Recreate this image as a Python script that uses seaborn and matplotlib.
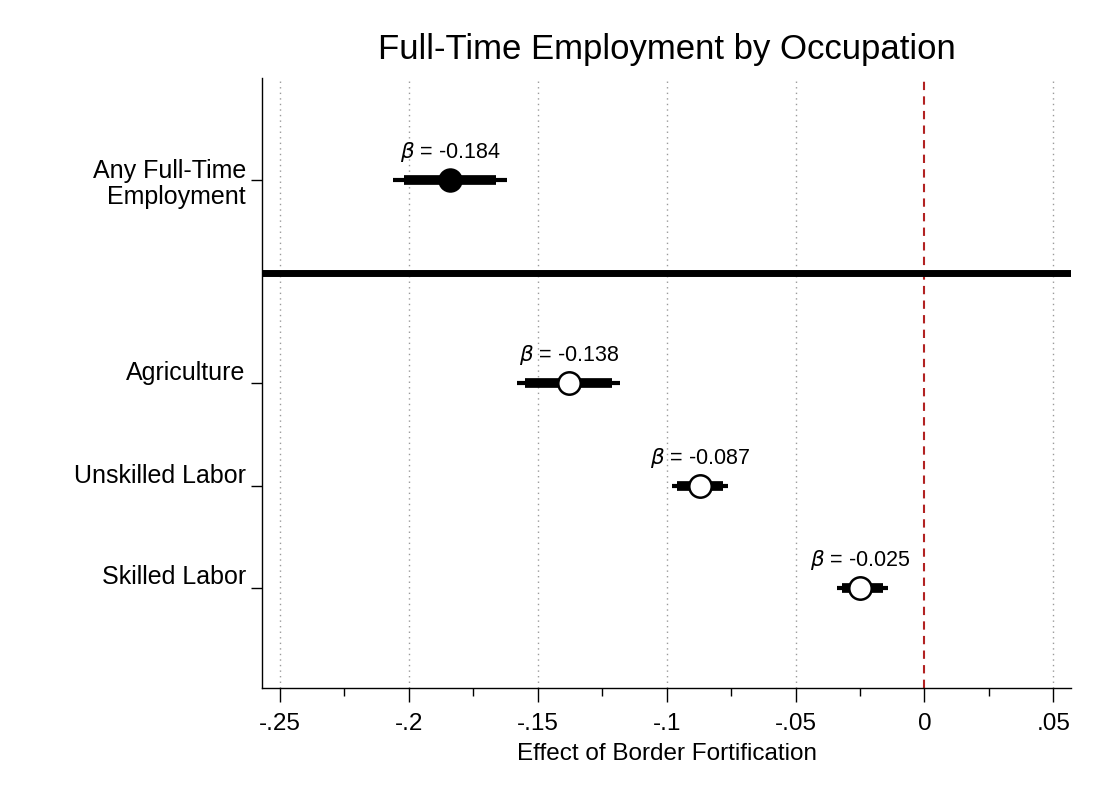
import numpy as np
import pandas as pd
import matplotlib
matplotlib.use('Agg')
import matplotlib.pyplot as plt
import matplotlib.ticker as mticker
import matplotlib.transforms as mtrans
import seaborn as sns

# Estimates
labels = ['Any Full-Time\nEmployment', 'Agriculture', 'Unskilled Labor', 'Skilled Labor']
beta = [-0.184, -0.138, -0.087, -0.025]
ci95_lo = [-0.206, -0.158, -0.098, -0.034]
ci95_hi = [-0.162, -0.118, -0.076, -0.014]
ci90_lo = [-0.202, -0.155, -0.096, -0.032]
ci90_hi = [-0.166, -0.121, -0.078, -0.016]
filled = [True, False, False, False]

# Row positions (top to bottom), separator sits between first and rest
ypos = [1.0, 3.03, 4.06, 5.08]
sep_y = 1.93
xticks = [-0.25, -0.2, -0.15, -0.1, -0.05, 0, 0.05]
xticklabels = ['-.25', '-.2', '-.15', '-.1', '-.05', '0', '.05']

df = pd.DataFrame({'label': labels, 'beta': beta, 'y': ypos,
                   'lo95': ci95_lo, 'hi95': ci95_hi,
                   'lo90': ci90_lo, 'hi90': ci90_hi, 'filled': filled})

sns.set_theme(style='ticks')
plt.rcParams['font.family'] = ['Liberation Sans', 'DejaVu Sans']
plt.rcParams['text.color'] = 'black'
plt.rcParams['axes.labelcolor'] = 'black'
plt.rcParams['xtick.color'] = 'black'
plt.rcParams['ytick.color'] = 'black'
plt.rcParams['axes.titlecolor'] = 'black'

fig = plt.figure(figsize=(11, 7.99), dpi=100)
ax = fig.add_axes([0.238, 0.139, 0.736, 0.763])

# Gridlines at major ticks
for xv in xticks:
    if xv != 0:
        ax.axvline(xv, color='#9a9a9a', linestyle=(0, (1, 3)), linewidth=1, zorder=0)
ax.axvline(0, color='#b22222', linestyle=(0, (4, 3)), linewidth=1.5, zorder=1)

# Separator line
ax.axhline(sep_y, color='black', linewidth=5, zorder=2)

# Confidence intervals
ax.hlines(df['y'], df['lo95'], df['hi95'], color='black', linewidth=3, zorder=3)
ax.hlines(df['y'], df['lo90'], df['hi90'], color='black', linewidth=7, zorder=3)

# Point estimates
sns.scatterplot(data=df[df['filled']], x='beta', y='y', ax=ax, s=260,
                color='black', edgecolor='black', linewidth=1.5, zorder=4, legend=False)
sns.scatterplot(data=df[~df['filled']], x='beta', y='y', ax=ax, s=260,
                color='white', edgecolor='black', linewidth=1.8, zorder=4, legend=False)

for _, r in df.iterrows():
    ax.text(r['beta'], r['y'] - 0.22, r'$\beta$ = ' + f"{r['beta']:.3f}",
            ha='center', va='baseline', fontsize=15.5, color='black')

ax.set_xlim(-0.257, 0.057)
ax.set_ylim(6.08, -0.02)

ax.set_yticks(ypos)
ax.set_yticklabels(labels, fontsize=18, linespacing=1.1)

ax.xaxis.set_major_locator(mticker.FixedLocator(xticks))
ax.xaxis.set_minor_locator(mticker.FixedLocator(np.arange(-0.25, 0.056, 0.025)))
ax.set_xticklabels(xticklabels, fontsize=17.5)
ax.tick_params(axis='x', which='major', length=10, width=1, pad=8, color='black')
ax.tick_params(axis='x', which='minor', length=6, width=1, color='black')
ax.tick_params(axis='y', length=8, width=1, color='black')

# single-line labels sit a little above their tick (after tick_params, which resets transforms)
shift = mtrans.ScaledTranslation(0, 0.13, fig.dpi_scale_trans)
for lab in ax.get_yticklabels():
    if '\n' not in lab.get_text():
        lab.set_transform(lab.get_transform() + shift)

ax.set_xlabel('Effect of Border Fortification', fontsize=17.5, labelpad=6)
ax.set_ylabel('')
ax.set_title('Full-Time Employment by Occupation', fontsize=25, pad=14)

sns.despine(ax=ax, top=True, right=True)
ax.spines['left'].set_color('black')
ax.spines['bottom'].set_color('black')
ax.spines['left'].set_linewidth(1)
ax.spines['bottom'].set_linewidth(1)

fig.savefig('out.png', dpi=100, facecolor='white')
plt.close()
